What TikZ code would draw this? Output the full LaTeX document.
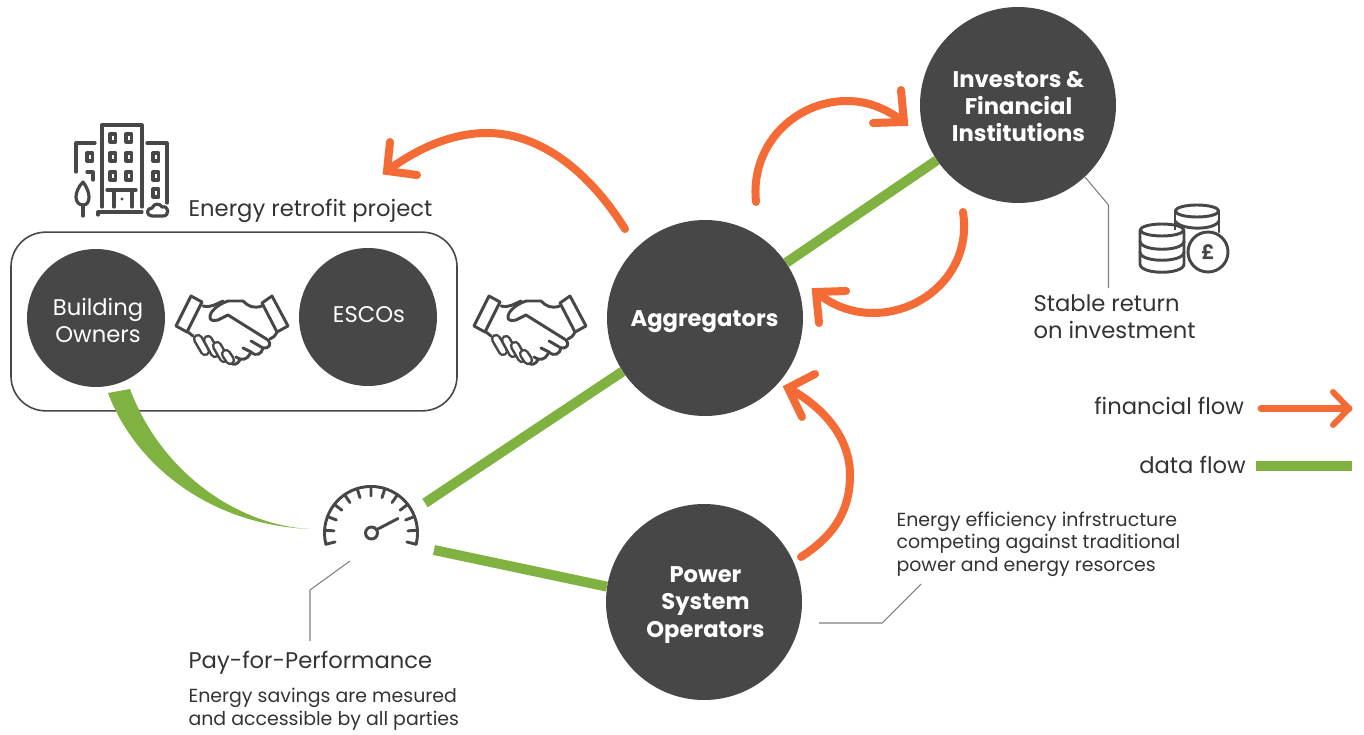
\documentclass[tikz,border=0pt]{standalone}
\usepackage{fontspec}
\setmainfont{Poppins}
\usetikzlibrary{backgrounds}
\definecolor{dk}{HTML}{474747}
\definecolor{txt}{HTML}{333333}
\definecolor{org}{HTML}{F46B35}
\definecolor{grn}{HTML}{7FB241}
\definecolor{thin}{HTML}{808080}
\newcommand{\fs}[2]{\fontsize{#1}{#2}\selectfont}
\tikzset{
  x=0.75pt,y=-0.75pt,
  bigc/.style={circle,fill=dk,draw=none,inner sep=0pt,minimum size=147pt},
  smallc/.style={circle,fill=dk,draw=none,inner sep=0pt,minimum size=103.5pt},
  ctext/.style={inner sep=0pt,text=white,align=center,font=\fs{17}{20.6}\bfseries},
  ctextr/.style={inner sep=0pt,text=white,align=center,font=\fs{17}{20.4}},
  lab/.style={anchor=base west,inner sep=0pt,text=txt,align=left},
  flow/.style={draw=org,line width=6pt,line cap=round,miter limit=10},
  data/.style={draw=grn,line width=7.5pt},
  leader/.style={draw=thin,line width=0.8pt},
  ico/.style={draw=dk,line width=2.2pt,line cap=round,line join=round},
  finger/.style={draw=dk,line width=1.9pt,double=white,double distance=4pt,line cap=round}
}
\begin{document}
\begin{tikzpicture}
\useasboundingbox (0,0) rectangle (1364,735);
% project box
\node[draw=dk,line width=1.2pt,rounded corners=26pt,minimum width=334.5pt,minimum height=134pt,inner sep=0pt] (box) at (234,321.5) {};
% circles
\node[smallc] (owners) at (96,318) {};
\node[ctextr] (ownerst) at (98,320.5) {Building\\Owners};
\node[smallc] (escos) at (368,317) {};
\node[ctextr] (escost) at (369,314.5) {ESCOs};
\node[bigc] (agg) at (705,318) {};
\node[ctext] (aggt) at (704.5,321.5) {Aggregators};
\node[bigc] (inv) at (1018,105) {};
\node[ctext] (invt) at (1018.5,106.5) {Investors \&\\Financial\\Institutions};
\node[bigc] (pso) at (704,602) {};
\node[ctext] (psot) at (705.5,605) {Power\\System\\Operators};
% free ends
\coordinate (g1) at (425,503);
\coordinate (g2) at (434,550);
\coordinate (ld1) at (1261,408.5);
\coordinate (ld2) at (1349,408.5);
\coordinate (ld3) at (1256,466);
\coordinate (ld4) at (1352,466);
\begin{pgfonlayer}{background}
\draw[data] (agg) -- (inv);
\draw[data] (agg.213) -- (g1);
\draw[data] (pso.171) -- (g2);
\end{pgfonlayer}
% wedge
\fill[grn] (108,393) -- (130,389) .. controls (160,470) and (235,525) .. (310,529) .. controls (210,525) and (135,465) .. (108,393) -- cycle;
% orange flows
\coordinate (a1s) at (625,229); \coordinate (a1t) at (387,171);
\draw[flow] (a1s) .. controls (585,165) and (535,133) .. (487,133) .. controls (450,133) and (415,150) .. (a1t);
\draw[flow,line join=miter] (390,142) -- (a1t) -- (417,175);
\coordinate (a2s) at (756,202); \coordinate (a2t) at (904,122);
\draw[flow] (a2s) .. controls (750,145) and (795,101) .. (847,101) .. controls (870,101) and (888,110) .. (a2t);
\draw[flow,line join=miter] (901,90) -- (a2t) -- (873,123);
\coordinate (a3s) at (963,212); \coordinate (a3t) at (816,292);
\draw[flow] (a3s) .. controls (972,270) and (925,313) .. (873,313) .. controls (850,313) and (830,304) .. (a3t);
\draw[flow,line join=miter] (846,291) -- (a3t) -- (819,323);
\coordinate (a4s) at (801,557); \coordinate (a4t) at (788,388);
\draw[flow] (a4s) .. controls (835,535) and (850,510) .. (850,475) .. controls (850,435) and (820,405) .. (a4t);
\draw[flow,line join=miter] (815,374) -- (a4t) -- (802,417);
% legend
\draw[flow,line width=5.2pt] (ld1) -- (ld2);
\draw[flow,line width=4.5pt,line join=round] (1333,392) -- (ld2) -- (1333,425);
\draw[data,line width=7.5pt] (ld3) -- (ld4);
% leaders
\draw[leader] (1085,177) -- (1108.5,205) -- (1108.5,288);
\draw[leader] (350,561) -- (310,590) -- (310,641);
\draw[leader] (819,623) -- (882,623) -- (921,584);
% labels
\node[lab,font=\fs{17}{20}] (t1) at (188.3,216) {Energy retrofit project};
\node[lab,font=\fs{17}{20}] (t2) at (1033.3,311) {Stable return};
\node[lab,font=\fs{17}{20}] (t3) at (1033.3,338) {on investment};
\node[lab,font=\fs{17}{20}] (t4) at (1094,414) {financial flow};
\node[lab,font=\fs{17}{20}] (t5) at (1139,473) {data flow};
\node[lab,font=\fs{17}{20}] (t6) at (188.3,668) {Pay-for-Performance};
\node[lab,font=\fs{14.2}{17}] (t7) at (188.3,702) {Energy savings are mesured};
\node[lab,font=\fs{14.2}{17}] (t8) at (188.3,725) {and accessible by all parties};
\node[lab,font=\fs{14.2}{17}] (t9) at (896.3,526) {Energy efficiency infrstructure};
\node[lab,font=\fs{14.2}{17}] (t10) at (896.3,548) {competing against traditional};
\node[lab,font=\fs{14.2}{17}] (t11) at (896.3,571) {power and energy resorces};
% building icon
\begin{scope}[ico,line width=2.4pt]
\draw (102,207) -- (102,125) -- (142,125) -- (142,207);
\draw (98,215) -- (98,212) -- (142,212);
\foreach \xx in {110,126} \foreach \yy in {134,153,172} \draw (\xx,\yy) rectangle ++(5.5,8);
\draw (107,190) -- (136,190);
\draw (114,190) -- (114,207);
\draw (132,190) -- (132,207);
\fill[dk] (122,199) circle (1.2pt);
\draw (95,143) -- (76,143) -- (76,172);
\draw (87,153) rectangle ++(5.5,8);
\draw (87,172) -- (93,172) -- (93,180);
\draw (83,182) .. controls (78,187) and (76,193) .. (76,197) .. controls (76,202) and (79,205) .. (83,205) .. controls (87,205) and (89,202) .. (89,197) .. controls (89,193) and (87,187) .. (83,182) -- cycle;
\draw (83,205) -- (83,216);
\draw (147,143) -- (167,143) -- (167,203);
\foreach \yy in {153,172,189} \draw (153,\yy) rectangle ++(5.5,8);
\draw (152,216) .. controls (146,216) and (146,208) .. (152,208) .. controls (154,203) and (160,203) .. (162,207) .. controls (169,205) and (170,216) .. (163,216) -- cycle;
\end{scope}
% handshakes
\foreach \dx in {0,298}{
\begin{scope}[shift={(\dx,0)},ico]
\draw (191,296) -- (202,302) -- (187,332) -- (176,326) -- cycle;
\draw (272,296) -- (262,303) -- (277,332) -- (288,326) -- cycle;
\draw (203,306) .. controls (211,308) and (216,304) .. (223,301);
\draw (228,301) .. controls (216,305) and (210,313) .. (210,316) .. controls (209,321) and (214,321) .. (218,320) -- (228,315) -- (268,340) .. controls (272,344) and (269,349) .. (263,348) -- (251,341);
\draw (228,301) -- (243,301) .. controls (248,306) and (253,309) .. (262,306);
\draw (263,348) .. controls (262,354) and (256,357) .. (251,352) -- (243,348);
\draw (250,354) .. controls (247,360) and (241,361) .. (236,357);
\draw (240,360) .. controls (237,365) and (233,365) .. (231,363);
\draw (188,332) -- (193,336);
\draw (277,332) .. controls (275,336) and (273,338) .. (270,339);
\draw[finger] (198,339) -- (205,351);
\draw[finger] (208,340) -- (215,353);
\draw[finger] (217,346) -- (224,358);
\draw[finger] (226,354) -- (230,360);
\end{scope}}
% gauge
\begin{scope}[ico]
\draw (325.9,544.2) arc[start angle=194,end angle=-14,radius=46.5*0.75pt];
\foreach \k in {0,...,12}{
  \pgfmathsetmacro{\ang}{194-\k*17.333}
  \draw ({371+46.5*cos(\ang)},{533-46.5*sin(\ang)}) -- ({371+37*cos(\ang)},{533-37*sin(\ang)});
}
\draw (371.5,533) circle (4.5pt);
\draw (377,529.5) -- (398,518.5);
\end{scope}
% coins
\begin{scope}[ico]
\draw (1197,211) ellipse (16.3pt and 4.5pt);
\draw (1175,211) -- (1175,232);
\draw (1219,211) -- (1219,232);
\draw (1175,221) .. controls (1180,230) and (1214,231) .. (1219,221);
\fill[white,draw=none] (1140,230) rectangle (1184,270);
\draw (1162,230) ellipse (16.3pt and 4.5pt);
\draw (1140,230) -- (1140,264) .. controls (1140,275) and (1184,275) .. (1184,264) -- (1184,230);
\draw (1140,241) .. controls (1140,252) and (1184,252) .. (1184,241);
\draw (1140,252) .. controls (1140,263) and (1184,263) .. (1184,252);
\node[circle,draw=dk,line width=2.2pt,fill=white,minimum size=30pt,inner sep=0pt,text=dk,font=\fs{15}{15}\bfseries] (coin) at (1208,252) {£};
\end{scope}
\end{tikzpicture}
\end{document}
